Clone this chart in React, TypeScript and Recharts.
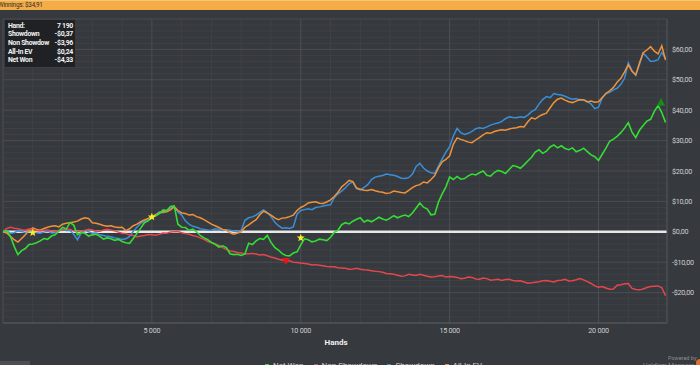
import React from "react";
import { LineChart, Line, XAxis, YAxis, ReferenceLine, ReferenceDot } from "recharts";

const hands = [
  0, 125, 250, 375, 500, 625, 750, 875, 1000, 1125, 1250, 1375, 1500, 1625, 1750, 1875, 2000, 2125, 2250, 2375,
  2500, 2625, 2750, 2875, 3000, 3125, 3250, 3375, 3500, 3625, 3750, 3875, 4000, 4125, 4250, 4375, 4500, 4625, 4750, 4875,
  5000, 5125, 5250, 5375, 5500, 5625, 5750, 5875, 6000, 6125, 6250, 6375, 6500, 6625, 6750, 6875, 7000, 7125, 7250, 7375,
  7500, 7625, 7750, 7875, 8000, 8125, 8250, 8375, 8500, 8625, 8750, 8875, 9000, 9125, 9250, 9375, 9500, 9625, 9750, 9875,
  10000, 10125, 10250, 10375, 10500, 10625, 10750, 10875, 11000, 11125, 11250, 11375, 11500, 11625, 11750, 11875, 12000, 12125, 12250, 12375,
  12500, 12625, 12750, 12875, 13000, 13125, 13250, 13375, 13500, 13625, 13750, 13875, 14000, 14125, 14250, 14375, 14500, 14625, 14750, 14875,
  15000, 15125, 15250, 15375, 15500, 15625, 15750, 15875, 16000, 16125, 16250, 16375, 16500, 16625, 16750, 16875, 17000, 17125, 17250, 17375,
  17500, 17625, 17750, 17875, 18000, 18125, 18250, 18375, 18500, 18625, 18750, 18875, 19000, 19125, 19250, 19375, 19500, 19625, 19750, 19875,
  20000, 20125, 20250, 20375, 20500, 20625, 20750, 20875, 21000, 21125, 21250, 21375, 21500, 21625, 21750, 21875, 22000, 22125, 22250,
];

const netWon = [
  0, 0.4, -1.5, -4.8, -7.5, -6.2, -5.5, -4.2, -4, -3.6, -3, -2.2, -2.5, -1.4, -1, 0.2, 1.5, 0.9, 3, 2.2,
  -1, -0.2, -0.5, -1.4, -1, -0.8, -1.5, -2.4, -2, -2.3, -2.8, -2.5, -3.2, -3.6, -3.8, -2.2, -0.5, 1.2, 3, 3.6,
  4.8, 5.2, 6, 7.2, 7, 8.3, 8.5, 2.5, 1.5, 1.4, 0.5, 0.9, 0, -1.2, -2, -2.6, -3.5, -4.1, -5, -4.6,
  -5.2, -7.2, -7.5, -7.4, -7.8, -7.3, -3.8, -4.2, -3, -2.2, -2.5, -1.2, -3.5, -5.1, -6, -7.2, -7.8, -7.9, -7, -6.6,
  -4.3, -2.3, -2.6, -3.3, -3, -2.4, -2.6, -2.9, -1.8, -0.2, 0.5, 2.4, 3, 2.6, 3.5, 4.1, 4.6, 3.2, 3.8, 3.3,
  4, 4.8, 4.2, 3.8, 4.5, 5.3, 4.6, 5.1, 5.5, 5, 6.2, 7.8, 9.5, 8.1, 7.5, 5.6, 5.8, 9.8, 12.5, 14.8,
  18, 17.2, 18.2, 17.3, 17.5, 18.4, 19, 18.7, 19.4, 20, 18.6, 18.3, 19.5, 20.2, 19.8, 19.2, 20.5, 21.8, 21.5, 20.9,
  22, 23.3, 24.5, 26.2, 27, 25.8, 26.5, 27.9, 28.6, 27.6, 28.3, 27.4, 27, 27.6, 26.3, 26.8, 27.5, 26.4, 25.3, 24.7,
  23.5, 25.5, 27.5, 29.8, 30.5, 31.4, 32.6, 34.1, 35.9, 32.8, 31, 33.4, 35, 36.4, 37, 39.6, 41.5, 39.2, 36,
];

const nonShowdown = [
  0, 1.1, 1.5, 1.2, 1, 0.7, 0.5, 1, 0.8, 0.4, 0.3, 0.5, 0.6, 0.3, 0.2, 0.4, 0.5, 0.9, 0.8, 0.3,
  0, 0.3, 0.4, 0.8, 0.6, 0.1, 0.2, 0.6, 0.8, 0.6, 0.3, -0.1, -0.5, -0.6, -1, -1.2, -1.6, -1.4, -1.2, -0.9,
  -1, -1.1, -0.8, -0.4, -0.5, -0.1, 0, 0.1, -0.3, -0.6, -0.8, -1.2, -1.5, -2, -2.5, -3.2, -3.5, -4, -4.5, -5.2,
  -5.8, -6.3, -6.5, -6.8, -7, -7.3, -7.2, -7.1, -7.3, -7.6, -7.5, -7.9, -8.3, -8.6, -9, -9.3, -9.6, -9.5, -10, -10.1,
  -10.3, -10.4, -10.6, -10.9, -10.8, -11, -11.2, -11.4, -11.5, -11.5, -11.8, -11.9, -12, -12.3, -12.2, -12, -12.3, -12.5, -12.6, -12.8,
  -13, -13.1, -13.3, -13.7, -13.8, -14, -14.3, -14.6, -14.5, -14, -14.2, -14.4, -14, -14.3, -14.6, -14.9, -14.8, -14.5, -14.4, -14.9,
  -14.7, -14.8, -15, -15.4, -15.3, -14.9, -15, -15.5, -15.6, -15.2, -15.4, -15.9, -15.8, -15.6, -16, -15.7, -15.6, -16, -16.2, -16.1,
  -16.5, -16.9, -16.8, -16.6, -16.4, -16.1, -16, -16.3, -16.5, -16, -15.9, -15.6, -16.2, -16.1, -15.8, -15.4, -15.8, -16.4, -17, -17.8,
  -18.2, -18, -18.5, -18.9, -18.8, -17.6, -17.4, -17.1, -17, -18.6, -19, -19.1, -18.8, -18.3, -18, -17.9, -17.8, -18.4, -21,
];

const showdown = [
  0, 0.3, -0.5, -0.3, 0.3, 0.1, -0.2, 0.2, 0, -0.3, -0.5, -0.1, 0.2, -0.4, -0.3, 0.3, 0.8, 0.4, 0.5, -0.8,
  -2.6, -0.4, 0.5, 0, -0.5, -0.4, -1, -1.2, -1.5, -1.6, -2, -2.2, -2.5, -2.3, -1.5, 0.2, 1.5, 2.8, 3.5, 3.8,
  4.5, 5.4, 6.6, 6.3, 7, 7.8, 8.3, 6.5, 5.5, 3.6, 2.5, 1.8, 1.5, 1, 0.8, 0.6, 0.5, 1, 0.8, 0.4,
  0.7, 0.5, 0.2, 0.1, 0.5, 3.8, 4.6, 4.9, 5.5, 6.4, 7.2, 6.3, 5, 3.2, 2, 1.2, 1.3, 1.1, 1.6, 5.8,
  7, 7.3, 7.6, 7.3, 8, 8.2, 8.5, 8.7, 8.9, 11.2, 12.5, 13.4, 14.5, 15.8, 16.4, 14.2, 13.8, 14.6, 15.5, 17.2,
  18, 18.3, 18.5, 19, 18.8, 18.6, 18.2, 17.6, 17.5, 17.8, 19, 21.5, 22.5, 21, 20, 19.4, 19.2, 21.6, 24, 26.2,
  28, 31.5, 34, 32.6, 32, 32.4, 33, 33.9, 34.2, 34, 34.5, 35.1, 35.5, 35.8, 36.3, 37.2, 37.8, 37.6, 37.5, 37.8,
  37.6, 38.4, 39.5, 40.2, 42, 43.5, 44.5, 44.1, 45.5, 45.2, 45, 44.6, 44, 43.6, 43.8, 43.3, 43.4, 42.9, 42, 40.5,
  41, 44, 45.5, 45.9, 46.7, 47.2, 48.5, 50.5, 55.6, 53, 51.5, 55, 58.8, 57.5, 56, 56.2, 56.6, 59, 57,
];

const allInEv = [
  0, -0.4, -1.5, -2.6, -3.4, -2.2, -1, 0.4, 1.3, 0.8, 0.5, 1.1, 1.5, 1.8, 2, 1.6, 2.5, 2.8, 3, 3.2,
  3.5, 4.2, 4.6, 4.4, 3, 2.8, 2.5, 2.1, 1.8, 2, 1.6, 1.4, 1.5, 0.4, 1, 2, 2.5, 3.3, 3.9, 4.4,
  5, 5.6, 6.2, 6.5, 6.6, 7.2, 8.2, 7, 6.2, 6, 5.5, 5.7, 5, 4.6, 4, 3.3, 2.5, 2, 1.4, 0.8,
  0.5, -0.3, -0.8, -0.4, 0, 1.5, 2.3, 3.2, 4, 5.6, 6.8, 6.2, 5.5, 4.6, 4, 4.5, 4.6, 5, 5.5, 7,
  8, 8.6, 9.5, 9.7, 9.9, 9.4, 9.3, 9.8, 10.5, 11.6, 13, 14.8, 15.8, 16.9, 16.5, 14.4, 14, 13.7, 13.6, 13.9,
  13.5, 13.2, 13, 12.6, 12.8, 13.4, 13.2, 12.9, 12.8, 13.6, 14.5, 15.2, 15.5, 16.4, 16.1, 17.2, 18.5, 21, 23, 23.8,
  25, 28.8, 30.9, 30.4, 30, 29.5, 29.3, 30.2, 31, 31.9, 32.6, 32.4, 33, 33.3, 33.6, 33.4, 33.8, 34.1, 34.2, 34.6,
  34.5, 36.2, 37.5, 37.1, 38, 38.6, 39, 40.8, 42.5, 43.6, 44, 43.3, 42.8, 42.5, 43, 43.5, 43.4, 42.7, 43, 42.6,
  42.8, 44.2, 45.5, 46.4, 47.5, 49.2, 50.5, 52.6, 54.9, 52.8, 51.6, 55.5, 58.9, 59.8, 60.9, 59.4, 58.5, 61.2, 56.5,
];

const yTicks = [-20, -10, 0, 10, 20, 30, 40, 50, 60];
const xTicks = [5000, 10000, 15000, 20000];
const gridMinorY = [-28, -26, -24, -22, -18, -16, -14, -12, -8, -6, -4, -2, 2, 4, 6, 8, 12, 14, 16, 18, 22, 24, 26, 28, 32, 34, 36, 38, 42, 44, 46, 48, 52, 54, 56, 58, 62, 64, 66, 68];
const gridMajorY = [-30, -20, -10, 10, 20, 30, 40, 50, 60, 70];
const gridMinorX = [1000, 2000, 3000, 4000, 6000, 7000, 8000, 9000, 11000, 12000, 13000, 14000, 16000, 17000, 18000, 19000, 21000, 22000];
const gridMajorX = [0, 5000, 10000, 15000, 20000];

const starHands = [1000, 5000, 10000];
const starValues = [-0.3, 4.9, -2];
const downMarker = { hand: 9500, value: -9.6 };
const upMarker = { hand: 22100, value: 42.8 };

const seriesNames = ["Net Won", "Non Showdown", "Showdown", "All-In EV"];
const seriesColors = ["#34dc34", "#e4474b", "#3a8fd6", "#f0923a"];

const tooltipLabels = ["Hand:", "Showdown", "Non Showdow", "All-In EV", "Net Won"];
const tooltipValues = ["7 190", "-$0,37", "-$3,96", "$0,24", "-$4,33"];

const data = hands.map((h, i) => ({
  hand: h,
  netWon: netWon[i],
  nonShowdown: nonShowdown[i],
  showdown: showdown[i],
  allInEv: allInEv[i],
}));

const FONT = 'Roboto, "Noto Sans", sans-serif';
const BG = "#36393e";

const fmtMoney = (v: number) => (v < 0 ? `-$${Math.abs(v)},00` : `$${v},00`);
const fmtHands = (v: number) => String(v).replace(/\B(?=(\d{3})+(?!\d))/g, " ");

const Star = (props: any) => {
  const { cx, cy } = props;
  const R = 4.2, r = 1.8;
  const pts: string[] = [];
  for (let k = 0; k < 10; k++) {
    const ang = -Math.PI / 2 + (k * Math.PI) / 5;
    const rad = k % 2 === 0 ? R : r;
    pts.push(`${cx + rad * Math.cos(ang)},${cy + rad * Math.sin(ang)}`);
  }
  return <polygon points={pts.join(" ")} fill="#f6ee2a" />;
};

const TriDown = (props: any) => {
  const { cx, cy } = props;
  return <polygon points={`${cx - 4},${cy - 3} ${cx + 4},${cy - 3} ${cx},${cy + 4}`} fill="#e01818" />;
};

const TriUp = (props: any) => {
  const { cx, cy } = props;
  return <polygon points={`${cx - 4},${cy + 4} ${cx + 4},${cy + 4} ${cx},${cy - 4}`} fill="#168c16" />;
};

const tickStyle = { fill: "#d0d0d0", fontSize: 7.2, fontFamily: FONT, letterSpacing: -0.25 };

export default function App() {
  return (
    <div style={{ position: "absolute", left: 0, top: 0, width: 700, height: 365, background: BG, overflow: "hidden", fontFamily: FONT }}>
      <div style={{ position: "absolute", left: 0, top: 0, width: 700, height: 10, background: "#f4ad46", borderTop: "1px solid #f8c47a", boxSizing: "border-box" }}>
        <span style={{ position: "absolute", left: -2, top: 0, fontSize: 6.3, letterSpacing: -0.2, color: "#2a2a2a", lineHeight: "9px" }}>Winnings: $34,91</span>
      </div>
      <LineChart width={700} height={365} data={data} margin={{ top: 19, right: 0, left: 3, bottom: 0 }} style={{ position: "absolute", left: 0, top: 0 }}>
        {gridMinorY.map((v) => (
          <ReferenceLine key={`gmy${v}`} y={v} stroke="#3e4146" strokeWidth={1} />
        ))}
        {gridMinorX.map((v) => (
          <ReferenceLine key={`gmx${v}`} x={v} stroke="#3f4247" strokeWidth={1} />
        ))}
        {gridMajorY.map((v) => (
          <ReferenceLine key={`gjy${v}`} y={v} stroke="#4a4d52" strokeWidth={1} />
        ))}
        {gridMajorX.map((v) => (
          <ReferenceLine key={`gjx${v}`} x={v} stroke="#4c4f54" strokeWidth={1} />
        ))}
        <XAxis
          dataKey="hand"
          type="number"
          domain={[0, 22300]}
          ticks={xTicks}
          tickFormatter={fmtHands}
          height={42}
          axisLine={{ stroke: "#55585d" }}
          tickLine={false}
          tickSize={0}
          tickMargin={5}
          tick={tickStyle}
          allowDataOverflow
        />
        <YAxis
          orientation="right"
          type="number"
          domain={[-30, 70]}
          ticks={yTicks}
          tickFormatter={fmtMoney}
          width={33}
          axisLine={{ stroke: "#55585d" }}
          tickLine={false}
          tickSize={0}
          tickMargin={5}
          tick={{ ...tickStyle, textAnchor: "start" }}
          allowDataOverflow
        />
        <ReferenceLine y={0} stroke="#e8e8e8" strokeWidth={2.5} />
        <Line dataKey="showdown" stroke={seriesColors[2]} strokeWidth={1.5} dot={false} isAnimationActive={false} type="linear" />
        <Line dataKey="allInEv" stroke={seriesColors[3]} strokeWidth={1.5} dot={false} isAnimationActive={false} type="linear" />
        <Line dataKey="nonShowdown" stroke={seriesColors[1]} strokeWidth={1.5} dot={false} isAnimationActive={false} type="linear" />
        <Line dataKey="netWon" stroke={seriesColors[0]} strokeWidth={1.6} dot={false} isAnimationActive={false} type="linear" />
        {starHands.map((h, i) => (
          <ReferenceDot key={`star${h}`} x={h} y={starValues[i]} r={4} shape={Star} />
        ))}
        <ReferenceDot x={downMarker.hand} y={downMarker.value} r={4} shape={TriDown} />
        <ReferenceDot x={upMarker.hand} y={upMarker.value} r={4} shape={TriUp} />
      </LineChart>

      <div style={{ position: "absolute", left: 5, top: 20, width: 70, height: 47, background: "#1f2124" }}>
        {tooltipLabels.map((lab, i) => (
          <div key={lab} style={{ position: "absolute", left: 3, right: 2, top: 1.5 + i * 8.7, height: 9, fontSize: 6.9, letterSpacing: -0.3, fontWeight: "bold", color: "#f2f2f2", lineHeight: "9px", whiteSpace: "nowrap" }}>
            <span style={{ position: "absolute", left: 0 }}>{lab}</span>
            <span style={{ position: "absolute", right: 0 }}>{tooltipValues[i]}</span>
          </div>
        ))}
      </div>

      <div style={{ position: "absolute", left: 316, top: 337, width: 40, textAlign: "center", fontSize: 8, fontWeight: "bold", color: "#f2f2f2", lineHeight: "12px" }}>Hands</div>

      <div style={{ position: "absolute", left: 265, top: 361, height: 10, display: "flex", fontSize: 8, color: "#cfcfcf", lineHeight: "10px", whiteSpace: "nowrap" }}>
        {seriesNames.map((n, i) => (
          <div key={n} style={{ display: "flex", alignItems: "center", marginRight: 10 }}>
            <span style={{ display: "inline-block", width: 4, height: 4, background: seriesColors[i], marginRight: 4 }} />
            <span>{n}</span>
          </div>
        ))}
      </div>

      <div style={{ position: "absolute", left: 0, top: 361, width: 30, height: 4, background: "#4b4e53" }} />
      <div style={{ position: "absolute", left: 668, top: 354, fontSize: 5.5, color: "#8c8e92", lineHeight: "8px", whiteSpace: "nowrap" }}>Powered by</div>
      <div style={{ position: "absolute", left: 643, top: 362, fontSize: 6.5, color: "#8c8e92", lineHeight: "8px", whiteSpace: "nowrap" }}>Hold'em Manager</div>
      <div style={{ position: "absolute", left: 696, top: 359, width: 8, height: 8, borderRadius: 4, background: "#e0702a" }} />
    </div>
  );
}
